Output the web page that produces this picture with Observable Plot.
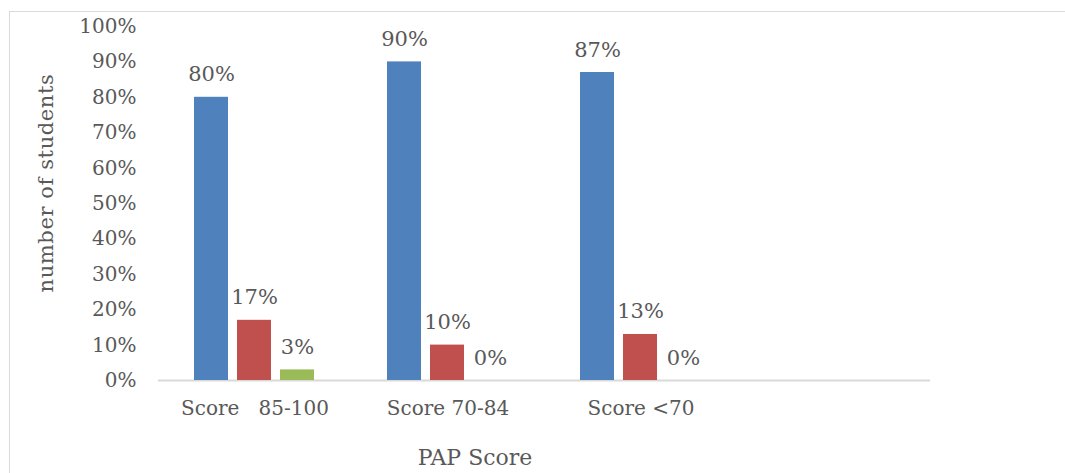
<!DOCTYPE html>
<html><head><meta charset="utf-8">
<script src="https://cdn.jsdelivr.net/npm/d3@7"></script>
<script src="https://cdn.jsdelivr.net/npm/@observablehq/plot@0.6"></script>
<style>
body{margin:0;background:#fff;}
#wrap{position:relative;width:1065px;height:473px;overflow:hidden;font-family:"DejaVu Serif",serif;color:#595959;}
#frame{position:absolute;left:9px;top:11px;width:1100px;height:500px;border-left:1.5px solid #d9d9d9;border-top:1.5px solid #d9d9d9;}
#chart{position:absolute;left:0;top:0;}
#ytitle{position:absolute;left:46px;top:183px;transform:translate(-50%,-50%) rotate(-90deg);white-space:nowrap;font-size:21px;letter-spacing:0.6px;}
#xtitle{position:absolute;left:475px;top:457px;transform:translate(-50%,-50%);white-space:nowrap;font-size:22px;}
svg text{white-space:pre;}
</style></head>
<body>
<div id="wrap">
<div id="frame"></div>
<div id="chart"></div>
<div id="ytitle">number of students</div>
<div id="xtitle">PAP Score</div>
</div>
<script>
const groupKeys = ["g1", "g2", "g3", "g4"];
const groupLabels = ["Score   85-100", "Score 70-84", "Score <70", ""];
const series = ["s1", "s2", "s3"];
const seriesColors = ["#4F81BD", "#C0504D", "#9BBB59"];
const blueValues = [80, 90, 87];
const redValues = [17, 10, 13];
const greenValues = [3, 0, 0];
const yTicks = [0, 10, 20, 30, 40, 50, 60, 70, 80, 90, 100];

const valueLists = [blueValues, redValues, greenValues];
const rows = [];
groupKeys.slice(0, 3).forEach((g, i) => {
  series.forEach((s, j) => rows.push({group: g, series: s, value: valueLists[j][i]}));
});
const labelOf = k => groupLabels[groupKeys.indexOf(k)];

const chart = Plot.plot({
  width: 1065, height: 473,
  marginLeft: 157, marginRight: 134, marginTop: 26, marginBottom: 93,
  style: {fontFamily: "DejaVu Serif", fontSize: "20px", color: "#595959", background: "transparent", overflow: "visible"},
  fx: {domain: groupKeys, padding: 0, label: null, axis: "bottom", tickSize: 0, tickPadding: 20, tickFormat: labelOf},
  x: {domain: series, paddingInner: 0.2, paddingOuter: 0.824, axis: null},
  y: {domain: [0, 100], axis: null},
  color: {domain: series, range: seriesColors},
  marks: [
    Plot.axisY(yTicks, {tickSize: 0, tickPadding: 22, tickFormat: d => d + "%", label: null, fill: "#595959"}),
    Plot.ruleY(groupKeys, {fx: d => d, y: () => 0, stroke: "#d9d9d9", strokeWidth: 2}),
    Plot.barY(rows, {fx: "group", x: "series", y: "value", fill: "series"}),
    Plot.text(rows, {fx: "group", x: "series", y: "value", text: d => d.value + "%", dy: -16, lineAnchor: "bottom", fill: "#595959", fontSize: 21})
  ]
});
document.getElementById("chart").appendChild(chart);
</script>
</body></html>
